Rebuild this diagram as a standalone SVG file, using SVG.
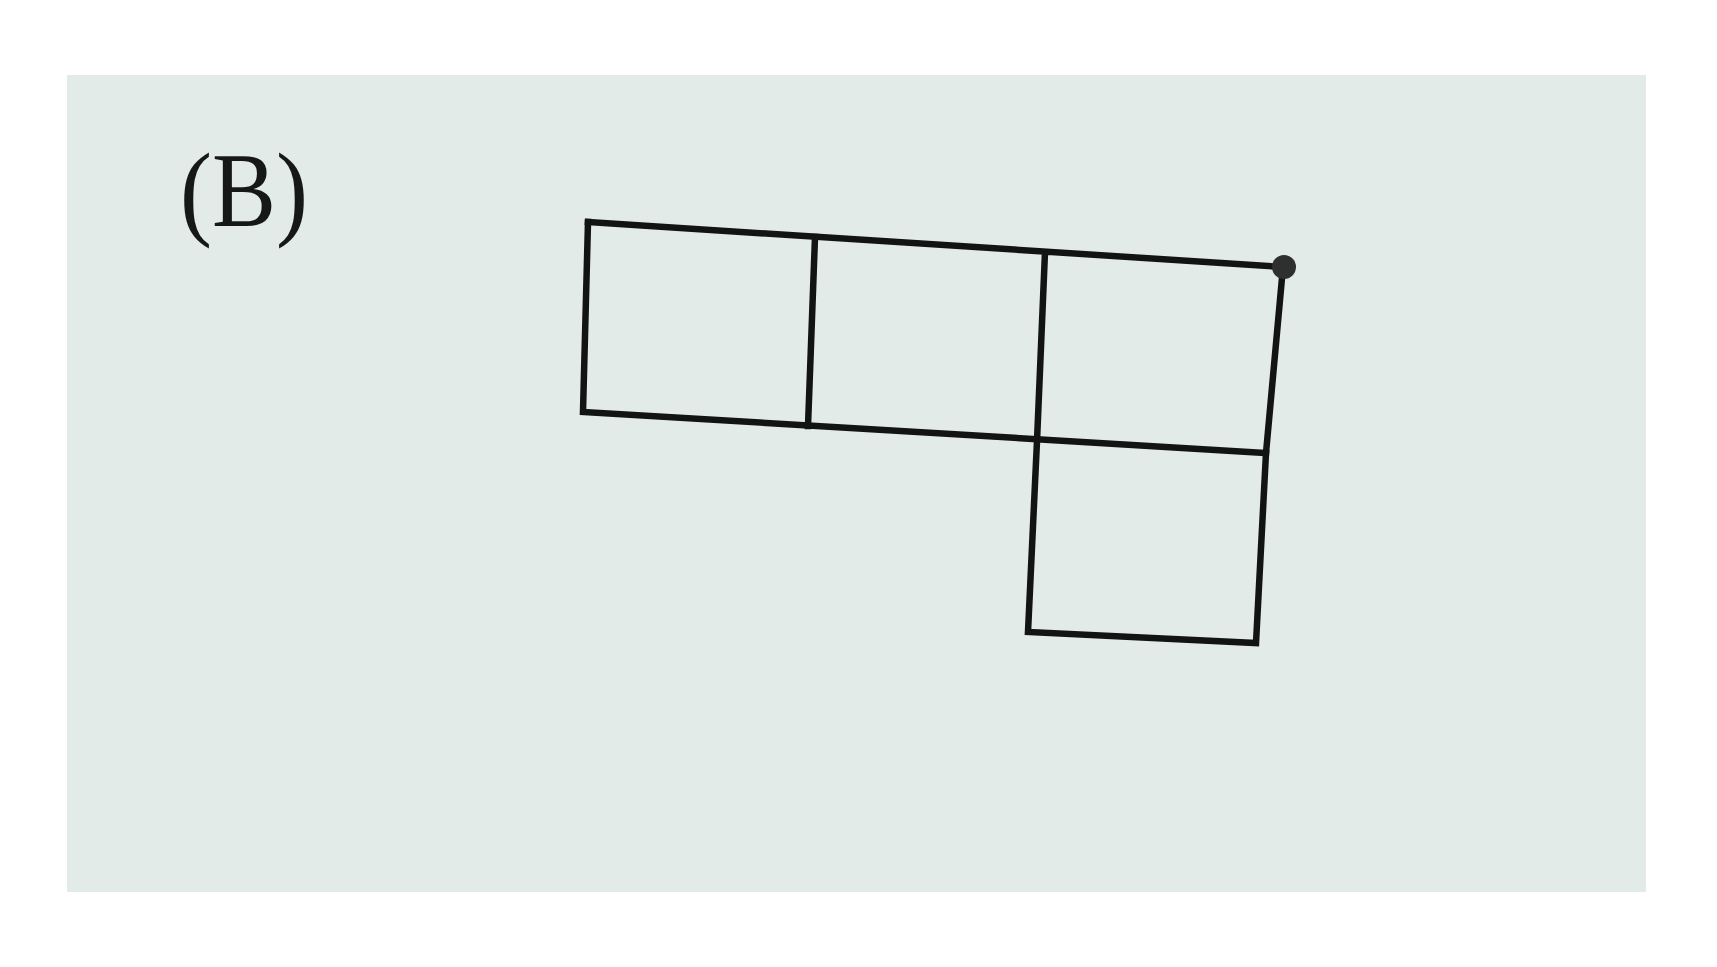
<svg xmlns="http://www.w3.org/2000/svg" width="1717" height="967" viewBox="0 0 1717 967">
<style>
.ln{fill:none;stroke:#121414;stroke-width:6.5;stroke-linejoin:miter;stroke-linecap:square}
.lbl{font-family:"Liberation Serif","Times New Roman",serif;font-size:106px;fill:#161818}
</style>
<rect x="0" y="0" width="1717" height="967" fill="#ffffff"/>
<rect x="67" y="75" width="1579" height="817" fill="#e2ebe8"/>
<text class="lbl" x="180" y="226" textLength="128" lengthAdjust="spacingAndGlyphs">(B)</text>
<g id="net">
<path class="ln" d="M588,222 L1283,267 L1266,453 L1256,643 L1028,632 L1037,441 L1045,252"/>
<path class="ln" d="M588,222 L583,412 L1266,453"/>
<path class="ln" d="M815,237 L808,426"/>
</g>
<g id="dot"><circle cx="1284" cy="267" r="12" fill="#2e3030"/></g>
</svg>
